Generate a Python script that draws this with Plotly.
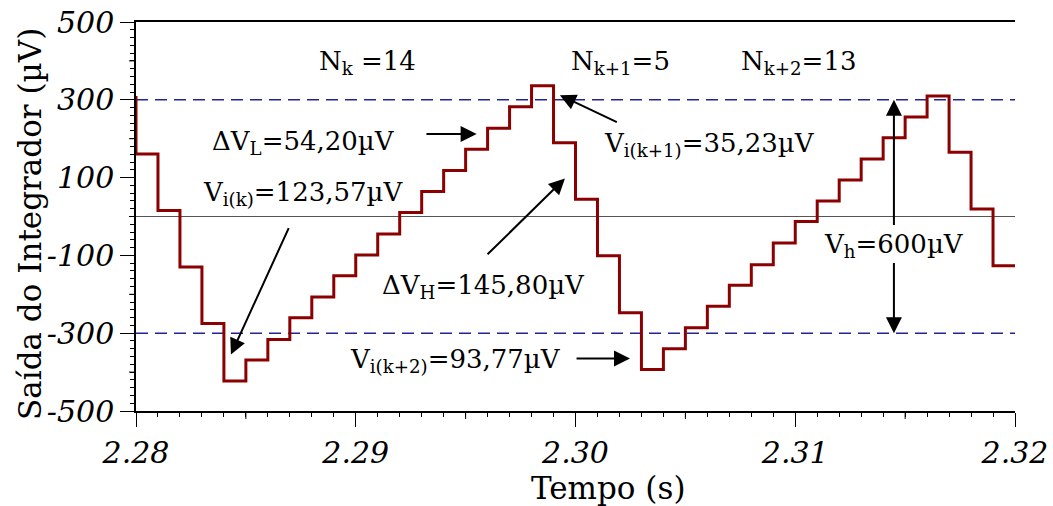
import plotly.graph_objects as go

# ---- data ----
step_start_s = [2.279, 2.280, 2.281, 2.282, 2.283, 2.284, 2.285, 2.286, 2.287, 2.288,
                2.289, 2.290, 2.291, 2.292, 2.293, 2.294, 2.295, 2.296, 2.297, 2.298,
                2.299, 2.300, 2.301, 2.302, 2.303, 2.304, 2.305, 2.306, 2.307, 2.308,
                2.309, 2.310, 2.311, 2.312, 2.313, 2.314, 2.315, 2.316, 2.317, 2.318,
                2.319, 2.320]
integrator_uV = [306.0, 160.7, 15.4, -129.8, -275.0, -423.0, -369.0, -316.0, -260.5, -206.8,
                 -152.0, -99.0, -45.0, 10.3, 64.0, 118.0, 172.8, 226.6, 282.0, 336.0,
                 189.7, 44.6, -100.8, -247.7, -393.0, -340.0, -286.0, -230.7, -177.0, -124.0,
                 -68.0, -12.8, 40.0, 94.0, 148.0, 202.6, 256.0, 310.0, 165.0, 19.0,
                 -126.4, -126.4]
threshold_uV = [300, -300]

x_tick_vals = [2.28, 2.29, 2.30, 2.31, 2.32]
x_tick_text = ["2.28", "2.29", "2.30", "2.31", "2.32"]
x_mid_ticks = [2.285, 2.295, 2.305, 2.315]
y_tick_vals = [500, 300, 100, -100, -300, -500]
y_tick_text = ["500", "300", "100", "-100", "-300", "-500"]
y_mid_ticks = [400, 200, 0, -200, -400]

# text labels: (x, y, text)
labels = [
    (2.29053, 397, "N<sub>k</sub> =14"),
    (2.30206, 397, "N<sub>k+1</sub>=5"),
    (2.31014, 397, "N<sub>k+2</sub>=13"),
    (2.28760, 189, "ΔV<sub>L</sub>=54,20µV"),
    (2.28760, 58, "V<sub>i(k)</sub>=123,57µV"),
    (2.30608, 184, "V<sub>i(k+1)</sub>=35,23µV"),
    (2.29581, -180, "ΔV<sub>H</sub>=145,80µV"),
    (2.29456, -370, "V<sub>i(k+2)</sub>=93,77µV"),
    (2.31449, -75, "V<sub>h</sub>=600µV"),
]
# arrows: (tail_x, tail_y, head_x, head_y)
arrows = [
    (2.29315, 212, 2.29550, 212),
    (2.28698, -26, 2.28432, -355),
    (2.29593, -101, 2.29952, 98),
    (2.30195, 241, 2.29929, 312),
    (2.29998, -365, 2.30248, -365),
    (2.31449, -26, 2.31449, 300),
    (2.31449, -116, 2.31449, -300),
]

FONT = "DejaVu Serif"
X_RANGE = [2.28, 2.32]
Y_RANGE = [-500, 500]

fig = go.Figure()
fig.add_trace(go.Scatter(
    x=step_start_s, y=integrator_uV, mode="lines",
    line=dict(color="#8b0000", width=3, shape="hv"),
    showlegend=False, hoverinfo="skip"))

for th in threshold_uV:
    fig.add_shape(type="line", xref="paper", x0=0, x1=1, yref="y", y0=th, y1=th,
                  line=dict(color="#24248f", width=1.6, dash="12px,7px"), layer="below")

# medium ticks
for xv in x_mid_ticks:
    fig.add_shape(type="line", xref="x", yref="paper", x0=xv, x1=xv, y0=0, y1=-8 / 389,
                  line=dict(color="black", width=1))
for yv in y_mid_ticks:
    fig.add_shape(type="line", yref="y", xref="paper", y0=yv, y1=yv, x0=0, x1=-7 / 879,
                  line=dict(color="black", width=1))

for (tx, ty, hx, hy) in arrows:
    fig.add_annotation(x=hx, y=hy, ax=tx, ay=ty, xref="x", yref="y", axref="x", ayref="y",
                       text="", showarrow=True, arrowhead=2, arrowsize=1.6,
                       arrowwidth=2, arrowcolor="black", standoff=0, startstandoff=0)

for (x, y, t) in labels:
    fig.add_annotation(x=x, y=y, xref="x", yref="y", text=t, showarrow=False,
                       font=dict(family=FONT, size=26, color="black"),
                       xanchor="center", yanchor="middle")

# axis titles
fig.add_annotation(x=0.5375, y=-0.198, xref="paper", yref="paper", text="Tempo (s)",
                   showarrow=False, font=dict(family=FONT, size=31, color="black"),
                   xanchor="center", yanchor="middle")
fig.add_annotation(x=-0.1206, y=0.4807, xref="paper", yref="paper",
                   text="Saída do Integrador (µV)", textangle=-90,
                   showarrow=False, font=dict(family=FONT, size=31, color="black"),
                   xanchor="center", yanchor="middle")

tickfont = dict(family=FONT, size=30, color="black", style="italic")
fig.update_layout(
    width=1053, height=506,
    margin=dict(l=136, r=38, t=22, b=95),
    paper_bgcolor="white", plot_bgcolor="white",
    xaxis=dict(range=X_RANGE, tickmode="array", tickvals=x_tick_vals, ticktext=x_tick_text,
               ticks="outside", ticklen=14, tickwidth=1.2, tickcolor="black",
               showline=True, linecolor="black", linewidth=1.5, mirror=True,
               showgrid=False, zeroline=False, tickfont=tickfont, automargin=False,
               minor=dict(tickmode="linear", tick0=2.28, dtick=0.001, ticks="outside",
                          ticklen=4, tickwidth=1, tickcolor="black", showgrid=False)),
    yaxis=dict(range=Y_RANGE, tickmode="array", tickvals=y_tick_vals, ticktext=y_tick_text,
               ticks="outside", ticklen=14, tickwidth=1.2, tickcolor="black",
               showline=True, linecolor="black", linewidth=1.5, mirror=False,
               showgrid=False, zeroline=True, zerolinecolor="#555555", zerolinewidth=1,
               tickfont=tickfont, automargin=False,
               minor=dict(tickmode="linear", tick0=0, dtick=20, ticks="outside",
                          ticklen=4, tickwidth=1, tickcolor="black", showgrid=False)),
)

fig.write_html("out.html", config={"displayModeBar": False},
               post_script="document.body.style.margin='0';")
